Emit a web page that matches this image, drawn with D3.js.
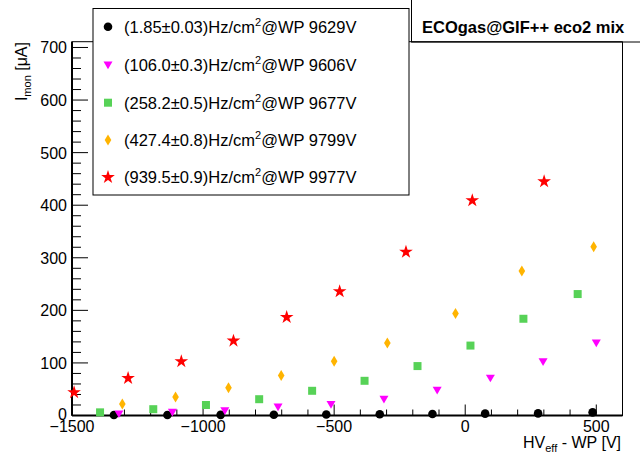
<!DOCTYPE html>
<html>
<head>
<meta charset="utf-8">
<script src="https://cdn.jsdelivr.net/npm/d3@7"></script>
<style>
  body { margin: 0; background: #fff; }
  text { font-family: "Liberation Sans", Arial, sans-serif; }
</style>
</head>
<body>
<svg id="chart" width="640" height="455"></svg>
<script>
// data: HV_eff - WP [V] and I_mon [uA]
const labels = [
  ["(1.85\u00b10.03)Hz/cm", "@WP 9629V"],
  ["(106.0\u00b10.3)Hz/cm", "@WP 9606V"],
  ["(258.2\u00b10.5)Hz/cm", "@WP 9677V"],
  ["(427.4\u00b10.8)Hz/cm", "@WP 9799V"],
  ["(939.5\u00b10.9)Hz/cm", "@WP 9977V"]
];
const hv1 = [-1340, -1136, -933, -730, -530, -326, -125, 76, 278, 486];
const cur1 = [1, 1, 1.2, 1.5, 2, 2.5, 3, 3.5, 4, 6];
const hv2 = [-1321, -1117, -917, -714, -512, -310, -107, 96, 297, 500];
const cur2 = [3, 6, 9, 16, 21, 31, 48, 71, 102, 138];
const hv3 = [-1393, -1190, -989, -786, -584, -384, -182, 20, 222, 429];
const cur3 = [6, 12, 20, 31, 47, 66, 94, 133, 184, 231];
const hv4 = [-1308, -1105, -903, -702, -500, -297, -37, 216, 490];
const cur4 = [22, 35, 53, 76, 103, 138, 194, 275, 321];
const hv5 = [-1492, -1286, -1083, -884, -681, -479, -226, 27, 301];
const cur5 = [44, 71, 103, 142, 187, 236, 311, 409, 445];

const colors = ["#000000", "#ff00ff", "#57d257", "#ffb400", "#ff0000"];
const shapes = ["circle", "triangle", "square", "diamond", "star"];

const series = [[hv1, cur1], [hv2, cur2], [hv3, cur3], [hv4, cur4], [hv5, cur5]]
  .map(([hv, cur], i) => ({ pts: hv.map((h, j) => ({ x: h, y: cur[j] })), color: colors[i], shape: shapes[i], label: labels[i] }));

const svg = d3.select("#chart");
const frame = { left: 72, right: 622.5, top: 41.7, bottom: 415.5 };

const x = d3.scaleLinear().domain([-1500, 600]).range([frame.left, frame.right]);
const y = d3.scaleLinear().domain([0, 711]).range([frame.bottom, frame.top]);

// marker paths
const markerPath = shape => {
  if (shape === "circle") return d3.symbol(d3.symbolCircle, 58)();
  if (shape === "square") return d3.symbol(d3.symbolSquare, 64)();
  if (shape === "triangle") return "M-4.5,-3.5L4.5,-3.5L0,4.2Z";
  if (shape === "diamond") return "M0,-5.5L3.3,0L0,5.5L-3.3,0Z";
  return d3.symbol(d3.symbolStar, 58)();
};

// frame
svg.append("rect")
  .attr("x", frame.left).attr("y", frame.top)
  .attr("width", frame.right - frame.left).attr("height", frame.bottom - frame.top)
  .attr("fill", "none").attr("stroke", "#000").attr("stroke-width", 1);

// x ticks (inside, pointing up)
const xMinor = d3.range(-1500, 601, 100);
svg.append("g").selectAll("line").data(xMinor).join("line")
  .attr("x1", d => x(d)).attr("x2", d => x(d))
  .attr("y1", frame.bottom).attr("y2", d => frame.bottom - (d % 500 === 0 ? 11 : 6))
  .attr("stroke", "#000").attr("stroke-width", 1);
svg.append("g").selectAll("text").data([-1500, -1000, -500, 0, 500]).join("text")
  .attr("x", d => x(d)).attr("y", 432)
  .attr("text-anchor", "middle").attr("font-size", 16)
  .text(d => d < 0 ? "\u2212" + Math.abs(d) : d);

// y ticks (inside, pointing right)
const yMinor = d3.range(0, 701, 20);
svg.append("g").selectAll("line").data(yMinor).join("line")
  .attr("x1", frame.left).attr("x2", d => frame.left + (d % 100 === 0 ? 16 : 9))
  .attr("y1", d => y(d)).attr("y2", d => y(d))
  .attr("stroke", "#000").attr("stroke-width", 1);
svg.append("g").selectAll("text").data(d3.range(0, 701, 100)).join("text")
  .attr("x", 67).attr("y", d => y(d) + (d === 0 ? 4 : 6))
  .attr("text-anchor", "end").attr("font-size", 16)
  .text(d => d);

// axis lines
svg.append("line").attr("x1", frame.left).attr("x2", frame.right)
  .attr("y1", frame.bottom).attr("y2", frame.bottom).attr("stroke", "#000").attr("stroke-width", 2);
svg.append("line").attr("x1", frame.left).attr("x2", frame.left)
  .attr("y1", frame.top).attr("y2", frame.bottom).attr("stroke", "#000").attr("stroke-width", 2);

// axis titles
const xt = svg.append("text").attr("x", 621).attr("y", 448)
  .attr("text-anchor", "end").attr("font-size", 16);
xt.append("tspan").text("HV");
xt.append("tspan").attr("font-size", 11).attr("dy", 4).text("eff");
xt.append("tspan").attr("dy", -4).text(" - WP [V]");

const yt = svg.append("text").attr("transform", "translate(27,42) rotate(-90)")
  .attr("text-anchor", "end").attr("font-size", 16);
yt.append("tspan").text("I");
yt.append("tspan").attr("font-size", 11).attr("dy", 4).text("mon");
yt.append("tspan").attr("dy", -4).text(" [\u03bcA]");

// points
series.forEach(s => {
  svg.append("g").selectAll("path").data(s.pts).join("path")
    .attr("transform", d => `translate(${x(d.x)},${y(d.y)})`)
    .attr("d", markerPath(s.shape))
    .attr("fill", s.color);
});

// title box
svg.append("rect").attr("x", 411.5).attr("y", -2).attr("width", 240).attr("height", 44)
  .attr("fill", "#fff").attr("stroke", "#000").attr("stroke-width", 1);
svg.append("line").attr("x1", 411.5).attr("x2", frame.right)
  .attr("y1", frame.top).attr("y2", frame.top).attr("stroke", "#000");
svg.append("line").attr("x1", frame.right).attr("x2", frame.right)
  .attr("y1", frame.top).attr("y2", frame.bottom).attr("stroke", "#000");
svg.append("text").attr("x", 422).attr("y", 33)
  .attr("font-size", 16.5).attr("font-weight", "bold")
  .text("ECOgas@GIF++ eco2 mix");

// legend
svg.append("rect").attr("x", 93).attr("y", 8.5).attr("width", 316).attr("height", 186.5)
  .attr("fill", "#fff").attr("stroke", "#000").attr("stroke-width", 1);
const rowY = [26.7, 65, 102.7, 140, 177.3];
series.forEach((s, i) => {
  svg.append("path")
    .attr("transform", `translate(108,${rowY[i]})`)
    .attr("d", markerPath(s.shape))
    .attr("fill", s.color);
  const t = svg.append("text").attr("x", 124).attr("y", rowY[i] + 6)
    .attr("font-size", 16.5);
  t.append("tspan").text(s.label[0]);
  t.append("tspan").attr("font-size", 11).attr("dy", -7).text("2");
  t.append("tspan").attr("dy", 7).text(s.label[1]);
});
</script>
</body>
</html>
